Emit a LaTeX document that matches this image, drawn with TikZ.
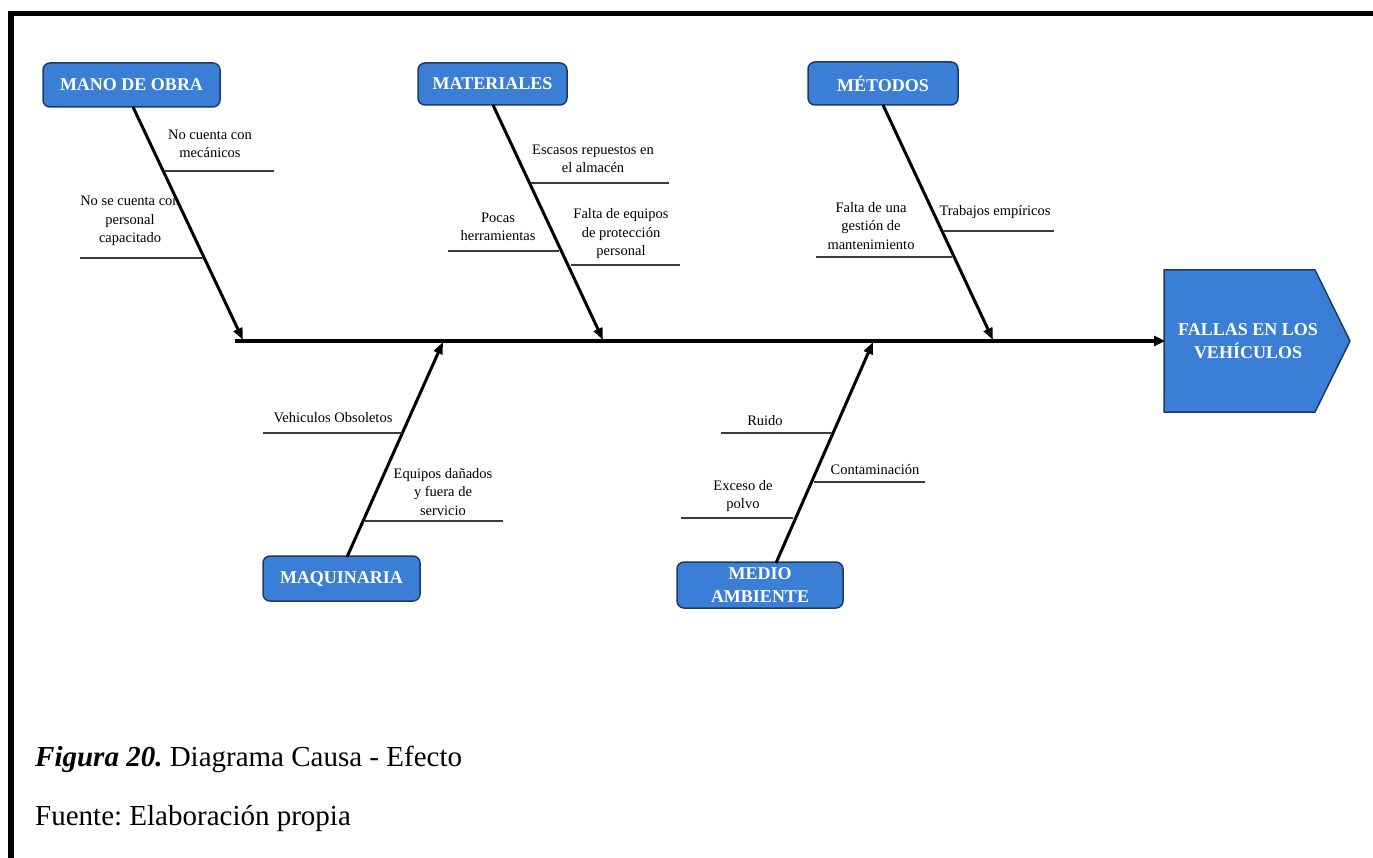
\documentclass[tikz,border=0pt]{standalone}
\usepackage{fontspec}
\setmainfont{Liberation Serif}
\usetikzlibrary{arrows.meta}
\definecolor{boxblue}{HTML}{3A7ED6}
\definecolor{boxedge}{HTML}{1D3A66}
\definecolor{ribgray}{HTML}{3C3C3C}
\frenchspacing
\begin{document}
\begin{tikzpicture}[x=1pt,y=-1pt,
  catbox/.style={draw=boxedge, line width=1.5pt, fill=boxblue, rounded corners=7pt,
    text=white, font=\fontsize{18}{23}\selectfont\bfseries, align=center, inner sep=0pt},
  bone/.style={line width=3pt, -{Triangle[length=12pt,width=9pt]}},
  spineline/.style={line width=4pt, -{Triangle[length=11pt,width=10pt]}},
  rib/.style={draw=ribgray, line width=1.2pt},
  cause/.style={font=\fontsize{14.5}{18.5}\selectfont, align=center, inner sep=0pt},
  caption/.style={font=\fontsize{29}{35}\selectfont, anchor=base west, inner sep=0pt}
]
\useasboundingbox (0,0) rectangle (1373,858);

% page frame
\draw[line width=5pt] (8,13.5) -- (1373,13.5);
\draw[line width=6pt] (11,11) -- (11,858);

% effect
\draw[draw=boxedge, line width=1.5pt, fill=boxblue]
  (1164,270) -- (1315,270) -- (1350,341) -- (1315,412) -- (1164,412) -- cycle;
\node[text=white, font=\fontsize{18}{23}\selectfont\bfseries, align=center, inner sep=0pt]
  (eff) at (1248,341) {FALLAS EN LOS\\VEHÍCULOS};
\coordinate (tail) at (235,341);
\coordinate (head) at (1165,341);
\draw[spineline] (tail) -- (head);

% categories
\node[catbox, minimum width=177, minimum height=44] (mano) at (131.5,85) {MANO DE OBRA};
\node[catbox, minimum width=149, minimum height=42] (mat) at (492.5,84) {MATERIALES};
\node[catbox, minimum width=150, minimum height=43] (met) at (883,83.5) {MÉTODOS};
\node[catbox, minimum width=157, minimum height=45] (maq) at (341.5,578.5) {MAQUINARIA};
\node[catbox, minimum width=166, minimum height=46] (med) at (760,585) {MEDIO\\AMBIENTE};

% bone ends on the spine
\coordinate (manoS) at (133,107);   \coordinate (manoE) at (243,340);
\coordinate (matS)  at (493,105);   \coordinate (matE)  at (603,340);
\coordinate (metS)  at (883,105);   \coordinate (metE)  at (993,340);
\coordinate (maqS)  at (347,557);   \coordinate (maqE)  at (443,342);
\coordinate (medS)  at (776,563);   \coordinate (medE)  at (873,342);

\draw[bone] (manoS) -- (manoE);
\draw[bone] (matS) -- (matE);
\draw[bone] (metS) -- (metE);
\draw[bone] (maqS) -- (maqE);
\draw[bone] (medS) -- (medE);

% MANO DE OBRA causes
\draw[rib] (165,171) -- (274,171);
\node[cause] (c1) at (210,144) {No cuenta con\\mecánicos};
\draw[rib] (80,258) -- (203,258);
\node[cause] (c2) at (130,221) {No se cuenta con\\personal\\capacitado};

% MATERIALES causes
\draw[rib] (531,183) -- (669,183);
\node[cause] (c3) at (593,159) {Escasos repuestos en\\el almacén};
\draw[rib] (448,251) -- (559,251);
\node[cause] (c4) at (498,227) {Pocas\\herramientas};
\draw[rib] (571,265) -- (680,265);
\node[cause] (c5) at (621,234) {Falta de equipos\\de protección\\personal};

% MÉTODOS causes
\draw[rib] (943,231) -- (1054,231);
\node[cause] (c6) at (995,212) {Trabajos empíricos};
\draw[rib] (816,257) -- (952,257);
\node[cause] (c7) at (871,226) {Falta de una\\gestión de\\mantenimiento};

% MAQUINARIA causes
\draw[rib] (263,433) -- (402,433);
\node[cause] (c8) at (333,418) {Vehiculos Obsoletos};
\draw[rib] (365,521) -- (503,521);
\node[cause] (c9) at (443,492) {Equipos dañados\\y fuera de\\servicio};

% MEDIO AMBIENTE causes
\draw[rib] (721,433) -- (832,433);
\node[cause] (c10) at (765,421) {Ruido};
\draw[rib] (814,482) -- (925,482);
\node[cause] (c11) at (875,470) {Contaminación};
\draw[rib] (681,518) -- (793,518);
\node[cause] (c12) at (743,496) {Exceso de\\polvo};

% caption
\node[caption] (cap) at (35,766) {\textbf{\textit{Figura 20.}} Diagrama Causa - Efecto};
\node[caption] (src) at (35,825) {Fuente: Elaboración propia};
\end{tikzpicture}
\end{document}
